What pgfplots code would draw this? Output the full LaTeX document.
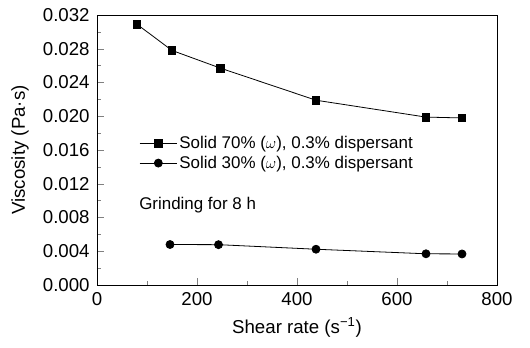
\documentclass[border=0pt]{standalone}
\usepackage{fontspec}
\setmainfont{Liberation Sans}
\usepackage{pgfplots}
\pgfplotsset{compat=1.18}
\begin{document}
\begin{tikzpicture}
\begin{axis}[
  name=ax,
  scale only axis,
  width=300pt, height=202.5pt,
  xmin=0, xmax=800, ymin=0, ymax=0.032,
  xtick={0,200,400,600,800},
  ytick={0,0.004,0.008,0.012,0.016,0.020,0.024,0.028,0.032},
  minor x tick num=1, minor y tick num=1,
  tick align=inside,
  xtick pos=bottom, ytick pos=left,
  major tick length=5pt, minor tick length=3pt,
  scaled y ticks=false,
  yticklabel style={/pgf/number format/fixed, /pgf/number format/fixed zerofill, /pgf/number format/precision=3, xshift=-2pt},
  xticklabel style={yshift=-2pt},
  /pgf/number format/assume math mode=true,
  tick label style={font=\fontsize{14}{16}\selectfont},
  xlabel={Shear rate (s\textsuperscript{−1})},
  ylabel={Viscosity (Pa·s)},
  every axis x label/.style={at={(axis description cs:0.5,-0.156)}, anchor=center, font=\fontsize{14}{16}\selectfont},
  every axis y label/.style={at={(axis description cs:-0.1925,0.5)}, anchor=center, rotate=90, font=\fontsize{14}{16}\selectfont},
  legend style={draw=none, fill=none, at={(axis description cs:0.105,0.56)}, anchor=north west, font=\fontsize{12.7}{14}\selectfont, row sep=1.2pt, inner sep=0pt,
    nodes={inner sep=1.5pt}},
  legend cell align=left,
  legend image code/.code={%
    \draw[mark repeat=2, mark phase=2, #1] plot coordinates {(0pt,0pt) (14pt,0pt) (28pt,0pt)};},
  every axis plot/.append style={line width=0.6pt, black},
  clip=false,
]
\addplot[mark=square*, mark size=2.9pt, mark options={solid}] coordinates {
  (80,0.0309) (150,0.0278) (247,0.0257) (438,0.0219) (658,0.0199) (730,0.0198)
};
\addlegendentry{Solid 70\% ($\omega$), 0.3\% dispersant}
\addplot[mark=*, mark size=3.0pt] coordinates {
  (146,0.00480) (243,0.00478) (438,0.00424) (658,0.00370) (730,0.00368)
};
\addlegendentry{Solid 30\% ($\omega$), 0.3\% dispersant}
\node[anchor=west, inner sep=0pt, font=\fontsize{12.7}{14}\selectfont] at (axis cs:84,0.0095) {Grinding for 8 h};
\end{axis}
\path ([shift={(-72.75pt,-46.5pt)}]ax.south west) rectangle ([shift={(24.75pt,11.25pt)}]ax.north east);
\end{tikzpicture}
\end{document}
